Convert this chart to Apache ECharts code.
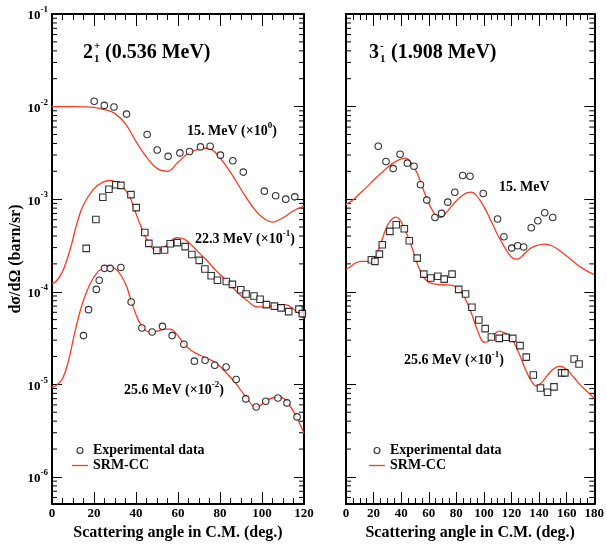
<!DOCTYPE html>
<html><head><meta charset="utf-8">
<script src="https://cdn.jsdelivr.net/npm/echarts@6/dist/echarts.min.js"></script>
<style>html,body{margin:0;padding:0;background:#fff}#c{width:607px;height:546px}</style>
</head><body><div id="c"></div>
<script>
// ---------------- data ----------------
const left15Exp = [[20.1,1.14e-2],[24.9,1.03e-2],[29.5,9.9e-3],[35.5,8.3e-3],[45.3,5.0e-3],[50.1,3.4e-3],[55.3,2.9e-3],[60.9,3.16e-3],[65.5,3.27e-3],[70.7,3.67e-3],[75.3,3.73e-3],[80.2,2.99e-3],[86.1,2.6e-3],[91.1,1.96e-3],[101.1,1.22e-3],[106.5,1.09e-3],[111.3,1.0e-3],[115.6,1.06e-3]];
const left15Model = [[0,1.0e-2],[5,1.0e-2],[10,1.0e-2],[15,9.95e-3],[20,9.8e-3],[25,9.3e-3],[30,8.4e-3],[35,6.5e-3],[40,4.2e-3],[45,2.85e-3],[50,2.15e-3],[55,2.0e-3],[60,2.5e-3],[65,3.15e-3],[70,3.48e-3],[73,3.55e-3],[76,3.45e-3],[80,2.8e-3],[85,1.95e-3],[90,1.28e-3],[95,8.6e-4],[100,6.4e-4],[105,5.65e-4],[110,6.3e-4],[115,7.5e-4],[120,8.4e-4]];
const left22Exp = [[16.3,2.94e-4],[20.9,6.04e-4],[24.2,1.05e-3],[27.1,1.28e-3],[30.4,1.43e-3],[32.8,1.41e-3],[37.6,1.12e-3],[40.1,8.1e-4],[44.2,4.37e-4],[46.1,3.33e-4],[49.9,2.8e-4],[53.6,2.82e-4],[56.3,3.3e-4],[59.7,3.39e-4],[63.4,3.07e-4],[66.6,2.53e-4],[70.1,2.18e-4],[72.8,1.76e-4],[75.8,1.49e-4],[78.8,1.33e-4],[83.0,1.29e-4],[85.9,1.2e-4],[89.9,1.05e-4],[92.4,9.45e-5],[96.2,9.0e-5],[99.1,8.3e-5],[102.1,7.26e-5],[105.9,7.0e-5],[109.1,6.7e-5],[112.7,6.1e-5],[117.6,6.5e-5],[119.2,5.8e-5]];
const left22Model = [[0,1.22e-4],[2,1.3e-4],[5,1.65e-4],[8.7,2.9e-4],[12,5.6e-4],[15,8.7e-4],[20,1.3e-3],[24,1.52e-3],[27.5,1.59e-3],[31,1.5e-3],[34,1.33e-3],[37,1.06e-3],[40,7.0e-4],[43,4.7e-4],[46,3.4e-4],[50,2.75e-4],[54,3.1e-4],[59.5,3.84e-4],[63,3.7e-4],[67,3.1e-4],[71,2.5e-4],[74,2.15e-4],[78,1.7e-4],[83,1.33e-4],[88,1.0e-4],[92.7,8.1e-5],[98,6.85e-5],[103,6.9e-5],[108,7.2e-5],[111,7.25e-5],[115,6.5e-5],[120,5.1e-5]];
const left25Exp = [[15.0,3.36e-5],[17.4,6.41e-5],[21.1,1.06e-4],[22.5,1.33e-4],[25.0,1.79e-4],[27.7,1.79e-4],[32.8,1.83e-4],[37.7,7.75e-5],[42.8,4.06e-5],[47.7,3.67e-5],[52.6,4.23e-5],[57.2,3.36e-5],[62.8,2.71e-5],[67.8,1.78e-5],[72.9,1.82e-5],[77.5,1.61e-5],[82.9,1.54e-5],[87.7,1.13e-5],[92.3,6.96e-6],[97.2,5.7e-6],[101.8,6.57e-6],[107.6,7.13e-6],[111.9,6.3e-6],[116.7,4.45e-6]];
const left25Model = [[0,9.3e-6],[2,9.7e-6],[5,1.15e-5],[8,1.85e-5],[10.3,3.2e-5],[12.7,5.4e-5],[15,8.1e-5],[18,1.2e-4],[21.4,1.6e-4],[25,1.83e-4],[27,1.87e-4],[31,1.7e-4],[35,1.22e-4],[38,7.6e-5],[41,5.0e-5],[44,3.9e-5],[47,3.67e-5],[50,3.75e-5],[54,3.95e-5],[56.5,3.95e-5],[59,3.55e-5],[62.6,2.8e-5],[66,2.35e-5],[70.5,2.06e-5],[74,1.9e-5],[78.5,1.68e-5],[82,1.4e-5],[86.4,1.1e-5],[90,8.6e-6],[93,7.0e-6],[96.7,5.75e-6],[99,5.9e-6],[102.3,6.75e-6],[107.8,7.3e-6],[111,6.9e-6],[113.3,5.9e-6],[117,4.2e-6],[120,2.95e-6]];

const right15Exp = [[23.4,3.73e-3],[29.0,2.55e-3],[34.2,2.14e-3],[39.2,3.06e-3],[44.5,2.45e-3],[49.3,2.27e-3],[54.0,1.43e-3],[58.6,9.77e-4],[64.5,6.35e-4],[69.3,7.02e-4],[73.8,9.29e-4],[78.9,1.19e-3],[84.6,1.8e-3],[89.9,1.77e-3],[99.5,1.15e-3],[109.9,6.1e-4],[114.5,3.93e-4],[120.2,2.96e-4],[124.5,3.14e-4],[128.8,3.04e-4],[134.3,4.91e-4],[139.1,5.85e-4],[144.1,7.13e-4],[149.9,6.35e-4]];
const right15Model = [[0,8.8e-4],[5,9.8e-4],[10,1.15e-3],[15,1.35e-3],[20,1.6e-3],[25,1.88e-3],[30,2.2e-3],[35,2.5e-3],[40,2.72e-3],[43,2.78e-3],[47,2.5e-3],[51,2.0e-3],[55,1.4e-3],[59,9.8e-4],[63,7.4e-4],[66,6.5e-4],[69,6.35e-4],[72,7.0e-4],[76,8.2e-4],[80,9.6e-4],[84,1.08e-3],[88,1.18e-3],[91,1.19e-3],[94,1.12e-3],[97,9.8e-4],[101,7.8e-4],[105,5.9e-4],[109,4.4e-4],[113,3.4e-4],[117,2.7e-4],[121,2.3e-4],[124,2.25e-4],[128,2.45e-4],[133,2.9e-4],[138,3.15e-4],[144,3.27e-4],[150,3.1e-4],[156,2.7e-4],[162,2.3e-4],[168,1.95e-4],[174,1.7e-4],[180,1.53e-4]];
const right25Exp = [[18.4,2.22e-4],[21.0,2.13e-4],[24.2,2.55e-4],[26.3,3.22e-4],[31.8,4.49e-4],[36.4,5.3e-4],[42.3,4.8e-4],[45.9,3.56e-4],[51.6,2.31e-4],[56.4,1.55e-4],[61.4,1.41e-4],[66.6,1.47e-4],[71.2,1.37e-4],[76.9,1.55e-4],[81.7,1.06e-4],[86.7,9.45e-5],[91.3,6.79e-5],[96.3,4.96e-5],[100.9,4.0e-5],[105.4,3.25e-5],[111.1,3.14e-5],[115.9,3.22e-5],[120.9,3.14e-5],[126.2,2.62e-5],[130.7,1.97e-5],[135.8,1.26e-5],[141.0,9.14e-6],[146.1,8.2e-6],[150.8,9.4e-6],[156.3,1.33e-5],[158.7,1.33e-5],[165.4,1.88e-5],[169.0,1.66e-5]];
const right25Model = [[0,1.75e-4],[3,1.85e-4],[7,2.05e-4],[11,2.13e-4],[15,2.13e-4],[19,2.15e-4],[23,2.7e-4],[26,3.6e-4],[29,4.8e-4],[32,5.8e-4],[36,6.4e-4],[39,6.0e-4],[42,4.9e-4],[45,3.9e-4],[48,2.95e-4],[52,1.95e-4],[56,1.45e-4],[60,1.27e-4],[66,1.2e-4],[72,1.19e-4],[77,1.17e-4],[80,1.12e-4],[84,9.7e-5],[88,7.5e-5],[92,5.3e-5],[96,3.6e-5],[100,2.85e-5],[103,2.9e-5],[107,3.4e-5],[111,3.75e-5],[115,3.6e-5],[119,3.3e-5],[123,2.6e-5],[127,1.9e-5],[131,1.35e-5],[135,1.05e-5],[138,9.6e-6],[142,1.05e-5],[146,1.25e-5],[150,1.45e-5],[155,1.57e-5],[160,1.45e-5],[165,1.2e-5],[170,9.8e-6],[175,8.3e-6],[180,7.1e-6]];

// tick labels / ticks
const yDecadeExponents = [-6,-5,-4,-3,-2,-1];
const yMinorTicks = [6e-7,7e-7,8e-7,9e-7,
  2e-6,3e-6,4e-6,5e-6,6e-6,7e-6,8e-6,9e-6,
  2e-5,3e-5,4e-5,5e-5,6e-5,7e-5,8e-5,9e-5,
  2e-4,3e-4,4e-4,5e-4,6e-4,7e-4,8e-4,9e-4,
  2e-3,3e-3,4e-3,5e-3,6e-3,7e-3,8e-3,9e-3,
  2e-2,3e-2,4e-2,5e-2,6e-2,7e-2,8e-2,9e-2];
const yMin = 5.1e-7, yMax = 0.1;
const leftXMax = 120, rightXMax = 180;

// ---------------- style ----------------
const FONT = '"Liberation Serif", "DejaVu Serif", serif';
const RED = '#ff3a22';
const INK = '#000';

function yLabel(v) {
  const l = Math.log10(v), e = Math.round(l);
  if (Math.abs(l - e) > 1e-6 || yDecadeExponents.indexOf(e) < 0) return '';
  return '{b|10}{s|' + e + '}';
}
const yRich = {
  b: {fontFamily: FONT, fontWeight: 'bold', fontSize: 13, color: INK, lineHeight: 17, verticalAlign: 'bottom'},
  s: {fontFamily: FONT, fontWeight: 'bold', fontSize: 9, color: INK, lineHeight: 9, verticalAlign: 'top'}
};

function xAxisDef(grid, max, bottom) {
  return {
    type: 'value', gridIndex: grid, min: 0, max: max, interval: 20,
    position: bottom ? 'bottom' : 'top',
    name: bottom ? 'Scattering angle in C.M. (deg.)' : '',
    nameLocation: 'middle', nameGap: 19,
    nameTextStyle: {fontFamily: FONT, fontWeight: 'bold', fontSize: 16, color: INK},
    axisLine: {show: true, onZero: false, lineStyle: {color: INK, width: 2}},
    axisTick: {show: true, inside: true, length: 12, lineStyle: {color: INK, width: 1}},
    minorTick: {show: true, splitNumber: 4, length: 6, lineStyle: {color: INK, width: 1}},
    axisLabel: {show: bottom, margin: 3, fontFamily: FONT, fontWeight: 'bold', fontSize: 13, color: INK},
    splitLine: {show: false}, minorSplitLine: {show: false}
  };
}
function yAxisDef(grid, left, labels) {
  return {
    type: 'log', logBase: 10, gridIndex: grid, min: yMin, max: yMax,
    position: left ? 'left' : 'right',
    name: labels ? 'dσ/dΩ (barn/sr)' : '',
    nameLocation: 'middle', nameGap: 28,
    nameTextStyle: {fontFamily: FONT, fontWeight: 'bold', fontSize: 16, color: INK},
    axisLine: {show: true, onZero: false, lineStyle: {color: INK, width: 2}},
    axisTick: {show: true, inside: true, length: 10, lineStyle: {color: INK, width: 1}},
    minorTick: {show: false},
    axisLabel: {show: labels, margin: 4, formatter: yLabel, rich: yRich},
    splitLine: {show: false}
  };
}

function minorTickRender(params, api) {
  const cs = params.coordSys;
  const y = api.coord([0, api.value(1)])[1];
  const L = 5;
  return {
    type: 'group',
    children: [
      {type: 'line', shape: {x1: cs.x, y1: y, x2: cs.x + L, y2: y}, style: {stroke: INK, lineWidth: 1}},
      {type: 'line', shape: {x1: cs.x + cs.width - L, y1: y, x2: cs.x + cs.width, y2: y}, style: {stroke: INK, lineWidth: 1}}
    ]
  };
}

function expSeries(data, xi, yi, symbol) {
  return {type: 'scatter', name: 'Experimental data', xAxisIndex: xi, yAxisIndex: yi, data: data,
    symbol: symbol, symbolSize: 6.5, itemStyle: {color: '#fff', borderColor: INK, borderWidth: 1.1}, z: 3, silent: true};
}
function modelSeries(data, xi, yi) {
  return {type: 'line', name: 'SRM-CC', xAxisIndex: xi, yAxisIndex: yi, data: data, smooth: 0.4,
    symbol: 'none', showSymbol: false, lineStyle: {color: RED, width: 1.3}, itemStyle: {color: RED}, z: 2, silent: true};
}

const txt = (size, extra) => Object.assign({fontFamily: FONT, fontWeight: 'bold', fontSize: size, fill: INK}, extra || {});
const annRich = {
  a: {fontFamily: FONT, fontWeight: 'bold', fontSize: 14, color: INK, lineHeight: 17, verticalAlign: 'bottom'},
  s: {fontFamily: FONT, fontWeight: 'bold', fontSize: 9, color: INK, lineHeight: 9, verticalAlign: 'top'}
};
function annotation(x, y, text) {
  return {type: 'text', x: x, y: y, silent: true,
    style: {text: text, rich: annRich, verticalAlign: 'middle', align: 'left', fontFamily: FONT}};
}

const legendStyle = (left) => ({
  left: left, top: 443, padding: 0, orient: 'vertical', itemWidth: 16, itemHeight: 6, itemGap: 0, selectedMode: false,
  data: [
    {name: 'Experimental data', icon: 'circle', itemStyle: {color: '#fff', borderColor: INK, borderWidth: 1.1}},
    {name: 'SRM-CC', icon: 'path://M0,0L32,0L32,2.6L0,2.6Z', itemStyle: {color: RED, borderWidth: 0}}
  ],
  textStyle: {fontFamily: FONT, fontWeight: 'bold', fontSize: 14, color: INK, lineHeight: 15}
});

const option = {
  backgroundColor: '#fff',
  animation: false,
  grid: [
    {left: 52, top: 14, width: 252, height: 490},
    {left: 346, top: 14, width: 251, height: 490}
  ],
  xAxis: [xAxisDef(0, leftXMax, true), xAxisDef(0, leftXMax, false), xAxisDef(1, rightXMax, true), xAxisDef(1, rightXMax, false)],
  yAxis: [yAxisDef(0, true, true), yAxisDef(0, false, false), yAxisDef(1, true, false), yAxisDef(1, false, false)],
  legend: [legendStyle(72), legendStyle(369)],
  series: [
    expSeries(left15Exp, 0, 0, 'circle'),
    modelSeries(left15Model, 0, 0),
    expSeries(left22Exp, 0, 0, 'rect'),
    modelSeries(left22Model, 0, 0),
    expSeries(left25Exp, 0, 0, 'circle'),
    modelSeries(left25Model, 0, 0),
    expSeries(right15Exp, 2, 2, 'circle'),
    modelSeries(right15Model, 2, 2),
    expSeries(right25Exp, 2, 2, 'rect'),
    modelSeries(right25Model, 2, 2),
    {type: 'custom', name: 'minor ticks L', xAxisIndex: 0, yAxisIndex: 0, data: yMinorTicks.map(v => [0, v]), renderItem: minorTickRender, silent: true, clip: false},
    {type: 'custom', name: 'minor ticks R', xAxisIndex: 2, yAxisIndex: 2, data: yMinorTicks.map(v => [0, v]), renderItem: minorTickRender, silent: true, clip: false}
  ],
  graphic: [
    {type: 'text', x: 83, y: 53, style: txt(20, {text: '2', verticalAlign: 'middle'})},
    {type: 'text', x: 94, y: 46, style: txt(11, {text: '+', verticalAlign: 'middle'})},
    {type: 'text', x: 94, y: 59, style: txt(11, {text: '1', verticalAlign: 'middle'})},
    {type: 'text', x: 105, y: 53, style: txt(20, {text: '(0.536 MeV)', verticalAlign: 'middle'})},
    {type: 'text', x: 369, y: 53, style: txt(20, {text: '3', verticalAlign: 'middle'})},
    {type: 'text', x: 380, y: 46, style: txt(11, {text: '-', verticalAlign: 'middle'})},
    {type: 'text', x: 380, y: 59, style: txt(11, {text: '1', verticalAlign: 'middle'})},
    {type: 'text', x: 391, y: 53, style: txt(20, {text: '(1.908 MeV)', verticalAlign: 'middle'})},
    annotation(187, 130, '{a|15. MeV (×10}{s|0}{a|)}'),
    annotation(195, 238, '{a|22.3 MeV (×10}{s|-1}{a|)}'),
    annotation(124, 389, '{a|25.6 MeV (×10}{s|-2}{a|)}'),
    annotation(499, 186, '{a|15. MeV}'),
    annotation(404, 359, '{a|25.6 MeV (×10}{s|-1}{a|)}')
  ]
};

const chart = echarts.init(document.getElementById('c'), null, {renderer: 'canvas'});
chart.setOption(option);
</script>
</body></html>
